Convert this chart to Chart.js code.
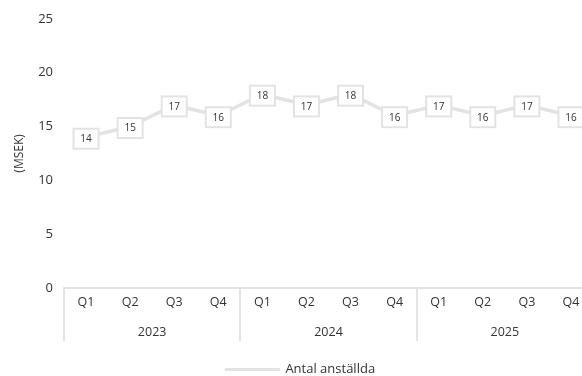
<!DOCTYPE html>
<html>
<head>
<meta charset="utf-8">
<script src="https://cdn.jsdelivr.net/npm/chart.js@4/dist/chart.umd.min.js"></script>
<style>
  html, body { margin: 0; padding: 0; background: #fff; overflow: hidden; }
  #wrap { width: 606px; height: 376px; }
</style>
</head>
<body>
<div id="wrap"><canvas id="chart"></canvas></div>
<script>
// Chart data
const quarters = ["Q1", "Q2", "Q3", "Q4", "Q1", "Q2", "Q3", "Q4", "Q1", "Q2", "Q3", "Q4"];
const years = ["2023", "2024", "2025"];
const employees = [14, 15, 17, 16, 18, 17, 18, 16, 17, 16, 17, 16];
const yTicks = [0, 5, 10, 15, 20, 25];

const FONT = "'Open Sans', sans-serif";
const TEXT = "#333";
const LINE = "#e3e3e3";

// Draws the boxed value labels on top of each point
const valueBoxes = {
  id: "valueBoxes",
  afterDatasetsDraw(chart) {
    const ctx = chart.ctx;
    const meta = chart.getDatasetMeta(0);
    ctx.save();
    ctx.font = "10px " + FONT;
    ctx.textAlign = "center";
    ctx.textBaseline = "middle";
    meta.data.forEach((pt, i) => {
      const w = 25, h = 20;
      const x = pt.x, y = pt.y + 1.5;
      ctx.fillStyle = "#fff";
      ctx.fillRect(x - w / 2, y - h / 2, w, h);
      ctx.strokeStyle = LINE;
      ctx.lineWidth = 2;
      ctx.strokeRect(x - w / 2, y - h / 2, w, h);
      ctx.fillStyle = TEXT;
      ctx.fillText(String(employees[i]), x, y + 0.5);
    });
    ctx.restore();
  }
};

// Vertical separators between the year groups
const yearSeparators = {
  id: "yearSeparators",
  afterDraw(chart) {
    const x = chart.scales.x;
    const ctx = chart.ctx;
    const step = x.getPixelForValue(1) - x.getPixelForValue(0);
    ctx.save();
    ctx.strokeStyle = LINE;
    ctx.lineWidth = 2;
    for (let i = 0; i <= quarters.length; i += 4) {
      const px = Math.round(x.getPixelForValue(0) - step / 2 + i * step);
      ctx.beginPath();
      ctx.moveTo(px, x.top);
      ctx.lineTo(px, x.top + 53);
      ctx.stroke();
    }
    ctx.restore();
  }
};

new Chart(document.getElementById("chart"), {
  type: "line",
  data: {
    labels: quarters,
    datasets: [{
      label: "Antal anställda",
      data: employees,
      borderColor: LINE,
      backgroundColor: LINE,
      borderWidth: 3.5,
      tension: 0,
      pointRadius: 0,
      pointHoverRadius: 0
    }]
  },
  options: {
    responsive: true,
    maintainAspectRatio: false,
    animation: false,
    layout: { padding: { top: 10, right: 13, left: 8, bottom: -10 } },
    plugins: {
      tooltip: { enabled: false },
      legend: {
        position: "bottom",
        labels: {
          color: TEXT,
          font: { family: FONT, size: 13 },
          boxWidth: 53,
          boxHeight: 1,
          padding: 2,
          generateLabels(chart) {
            return chart.data.datasets.map((ds, i) => ({
              text: ds.label,
              fillStyle: LINE,
              strokeStyle: LINE,
              lineWidth: 2,
              fontColor: TEXT,
              datasetIndex: i
            }));
          }
        }
      }
    },
    scales: {
      x: {
        type: "category",
        offset: true,
        grid: { display: false, drawTicks: false },
        border: { display: true, color: LINE, width: 2 },
        ticks: { color: TEXT, font: { family: FONT, size: 12.5 }, padding: 7, maxRotation: 0, autoSkip: false }
      },
      year: {
        type: "category",
        labels: years,
        position: "bottom",
        offset: true,
        grid: { display: false, drawTicks: false },
        border: { display: false },
        ticks: { color: TEXT, font: { family: FONT, size: 12.5 }, padding: 8, maxRotation: 0 },
        afterFit(scale) { scale.height += 13; }
      },
      y: {
        min: 0,
        max: 25,
        afterBuildTicks(scale) { scale.ticks = yTicks.map(v => ({ value: v })); },
        afterFit(scale) { scale.width = 56; },
        grid: { display: false, drawTicks: false },
        border: { display: false },
        ticks: { color: TEXT, font: { family: FONT, size: 13 }, padding: 11 },
        title: { display: true, text: "(MSEK)", color: TEXT, font: { family: FONT, size: 12 }, padding: 4 }
      }
    }
  },
  plugins: [valueBoxes, yearSeparators]
});
</script>
</body>
</html>
